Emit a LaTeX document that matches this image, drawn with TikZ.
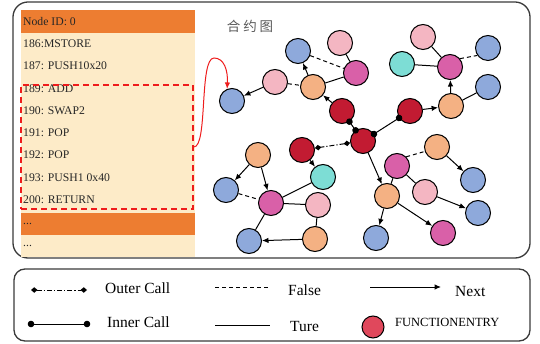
\documentclass[tikz,border=0pt]{standalone}
\usepackage{fontspec}
\setmainfont{Liberation Serif}
\newfontfamily\cjkfont{Noto Sans CJK SC}
\usetikzlibrary{arrows.meta}

\definecolor{hdr}{HTML}{ED7D31}
\definecolor{rowbg}{HTML}{FDEBC8}
\definecolor{cblue}{HTML}{8EA9DB}
\definecolor{cpink}{HTML}{F4B6C2}
\definecolor{cmag}{HTML}{D960A8}
\definecolor{corange}{HTML}{F4B183}
\definecolor{cred}{HTML}{C21B32}
\definecolor{cteal}{HTML}{7DDDD5}
\definecolor{centry}{HTML}{E0485C}
\definecolor{selred}{HTML}{EE1C1C}
\definecolor{framegray}{HTML}{3A3A3A}
\definecolor{titlegray}{HTML}{5A5A5A}

\tikzset{
  gnode/.style={circle, draw=black, line width=1pt, minimum size=25pt, inner sep=0pt},
  nblue/.style={gnode, fill=cblue},
  npink/.style={gnode, fill=cpink},
  nmag/.style={gnode, fill=cmag},
  norange/.style={gnode, fill=corange},
  nred/.style={gnode, fill=cred},
  nteal/.style={gnode, fill=cteal},
  nxt/.style={-{Latex[length=6.5pt,width=5.5pt]}, line width=1pt},
  tru/.style={line width=1pt},
  fls/.style={dash pattern=on 4pt off 3pt, line width=1pt},
  innercall/.style={{Circle[length=6.5pt]}-{Circle[length=6.5pt]}, line width=1pt,
    shorten <=-3.25pt, shorten >=-3.25pt},
  outercall/.style={{Diamond[length=6.5pt,width=5.5pt]}-{Diamond[length=6.5pt,width=5.5pt]},
    dash pattern=on 5pt off 2pt on 1.2pt off 2pt, line width=1pt},
  rowtxt/.style={anchor=west, inner sep=0pt, font=\fontsize{11.7}{13}\selectfont, text=black!85},
  legtxt/.style={anchor=west, inner sep=0pt, font=\fontsize{15.5}{17}\selectfont},
  frame/.style={draw=framegray, line width=1.3pt},
}

\begin{document}
\begin{tikzpicture}[x=1pt, y=-1pt]
\useasboundingbox (0,0) rectangle (540,344);

% outer frames
\draw[frame, rounded corners=15pt] (13,2) rectangle (530,258);
\draw[frame, rounded corners=11pt] (14,269) rectangle (530,341);

% opcode table
\fill[rowbg] (21,33) rectangle (195,257);
\fill[hdr] (21,10) rectangle (195,33);
\fill[hdr] (21,213) rectangle (195,235);
\node[rowtxt] (r0) at (23,21.5) {Node ID: 0};
\node[rowtxt] (r1) at (23,44) {186:MSTORE};
\node[rowtxt] (r2) at (23,66) {187: PUSH10x20};
\node[rowtxt] (r3) at (23,89) {189: ADD};
\node[rowtxt] (r4) at (23,111) {190: SWAP2};
\node[rowtxt] (r5) at (23,133) {191: POP};
\node[rowtxt] (r6) at (23,155) {192: POP};
\node[rowtxt] (r7) at (23,178) {193: PUSH1 0x40};
\node[rowtxt] (r8) at (23,200) {200: RETURN};
\node[rowtxt] (r9) at (23,224) {...};
\node[rowtxt] (r10) at (23,246) {...};

% selected block
\node (selbox) [draw=selred, line width=1.6pt, dash pattern=on 6pt off 4pt,
  minimum width=172pt, minimum height=124pt, inner sep=0pt] at (107,147) {};

% title
\node[font=\cjkfont\fontsize{13.5}{15}\selectfont, text=titlegray] (title) at (250,26)
  {合\hspace{3pt}约\hspace{3pt}图};

% graph nodes
\node[nblue]   (A)  at (232,101) {};
\node[npink]   (B)  at (275,82) {};
\node[nblue]   (C)  at (298,51) {};
\node[npink]   (D)  at (340,43) {};
\node[nmag]    (E)  at (356,73) {};
\node[norange] (F)  at (313,87) {};
\node[nred]    (G)  at (342,111) {};
\node[nred]    (H)  at (410,111) {};
\node[norange] (I)  at (451,106) {};
\node[nblue]   (J)  at (488,87) {};
\node[nmag]    (K)  at (450,67) {};
\node[nteal]   (L)  at (402,64) {};
\node[npink]   (M)  at (423,37) {};
\node[nblue]   (N)  at (488,48) {};
\node[nred]    (O)  at (363,141) {};
\node[nred]    (P)  at (302,150) {};
\node[nteal]   (Q)  at (323,177) {};
\node[norange] (R)  at (258,155) {};
\node[nblue]   (S)  at (226,190) {};
\node[nmag]    (T)  at (271,203) {};
\node[npink]   (U)  at (318,205) {};
\node[nblue]   (V)  at (249,241) {};
\node[norange] (W)  at (315,239) {};
\node[norange] (X)  at (387,196) {};
\node[nmag]    (Y)  at (397,166) {};
\node[norange] (Z)  at (437,147) {};
\node[nblue]   (AA) at (473,180) {};
\node[npink]   (AB) at (425,192) {};
\node[nblue]   (AC) at (478,213) {};
\node[nblue]   (AD) at (376,238) {};
\node[nmag]    (AE) at (443,233) {};

% jump from the selected block to its target
\draw[selred, line width=1pt, -{Latex[length=6.5pt,width=5.5pt]}]
  (selbox.east) .. controls (208,147) and (199,58) .. (214,58)
  .. controls (224,58) and (228,70) .. (A.112);

% edges
\draw[nxt] (B) -- (A);
\draw[fls] (B) -- (F);
\draw[nxt] (F) -- (C);
\draw[fls] (C) -- (E);
\draw[tru] (F) -- (E);
\draw[tru] (D) -- (E);
\draw[nxt] (G) -- (F);
\draw[innercall] (G) -- (O);
\draw[innercall] (O) -- (H);
\draw[nxt] (H) -- (I);
\draw[nxt] (I) -- (K);
\draw[tru] (I) -- (J);
\draw[tru] (K) -- (L);
\draw[tru] (K) -- (M);
\draw[fls] (K.40) -- (N.215);
\draw[outercall] (O) -- (P);
\draw[nxt] (P) -- (Q);
\draw[nxt] (O) -- (X);
\draw[nxt] (R) -- (S);
\draw[nxt] (R) -- (T);
\draw[fls] (S) -- (T);
\draw[tru] (T) -- (Q);
\draw[tru] (T) -- (U);
\draw[tru] (T) -- (V);
\draw[tru] (U) -- (W);
\draw[nxt] (W) -- (V);
\draw[fls] (Y.45) -- (Z.200);
\draw[nxt] (Z) -- (AA);
\draw[tru] (Y) -- (X);
\draw[tru] (Y) -- (AB);
\draw[nxt] (AB) -- (AC);
\draw[nxt] (X) -- (AD);
\draw[nxt] (X) -- (AE);

% legend
\coordinate (oc1) at (31,290);  \coordinate (oc2) at (87,290);
\coordinate (ic1) at (31,324);  \coordinate (ic2) at (87,324);
\coordinate (f1) at (215,287);  \coordinate (f2) at (270,287);
\coordinate (t1) at (215,325);  \coordinate (t2) at (270,325);
\coordinate (n1) at (370,287);  \coordinate (n2) at (441,287);
\draw[outercall] (oc1) -- (oc2);
\draw[innercall] (ic1) -- (ic2);
\draw[fls] (f1) -- (f2);
\draw[tru] (t1) -- (t2);
\draw[nxt] (n1) -- (n2);
\node[legtxt] (lo) at (105,288) {Outer Call};
\node[legtxt] (li) at (107,322) {Inner Call};
\node[legtxt] (lf) at (288,290) {False};
\node[legtxt] (lt) at (290,326) {Ture};
\node[legtxt] (ln) at (455,292) {Next};
\node[gnode, fill=centry, minimum size=22pt] (fe) at (373,327) {};
\node[anchor=west, inner sep=0pt, font=\fontsize{12.5}{14}\selectfont] (lfe) at (395,322) {FUNCTIONENTRY};
\end{tikzpicture}
\end{document}
